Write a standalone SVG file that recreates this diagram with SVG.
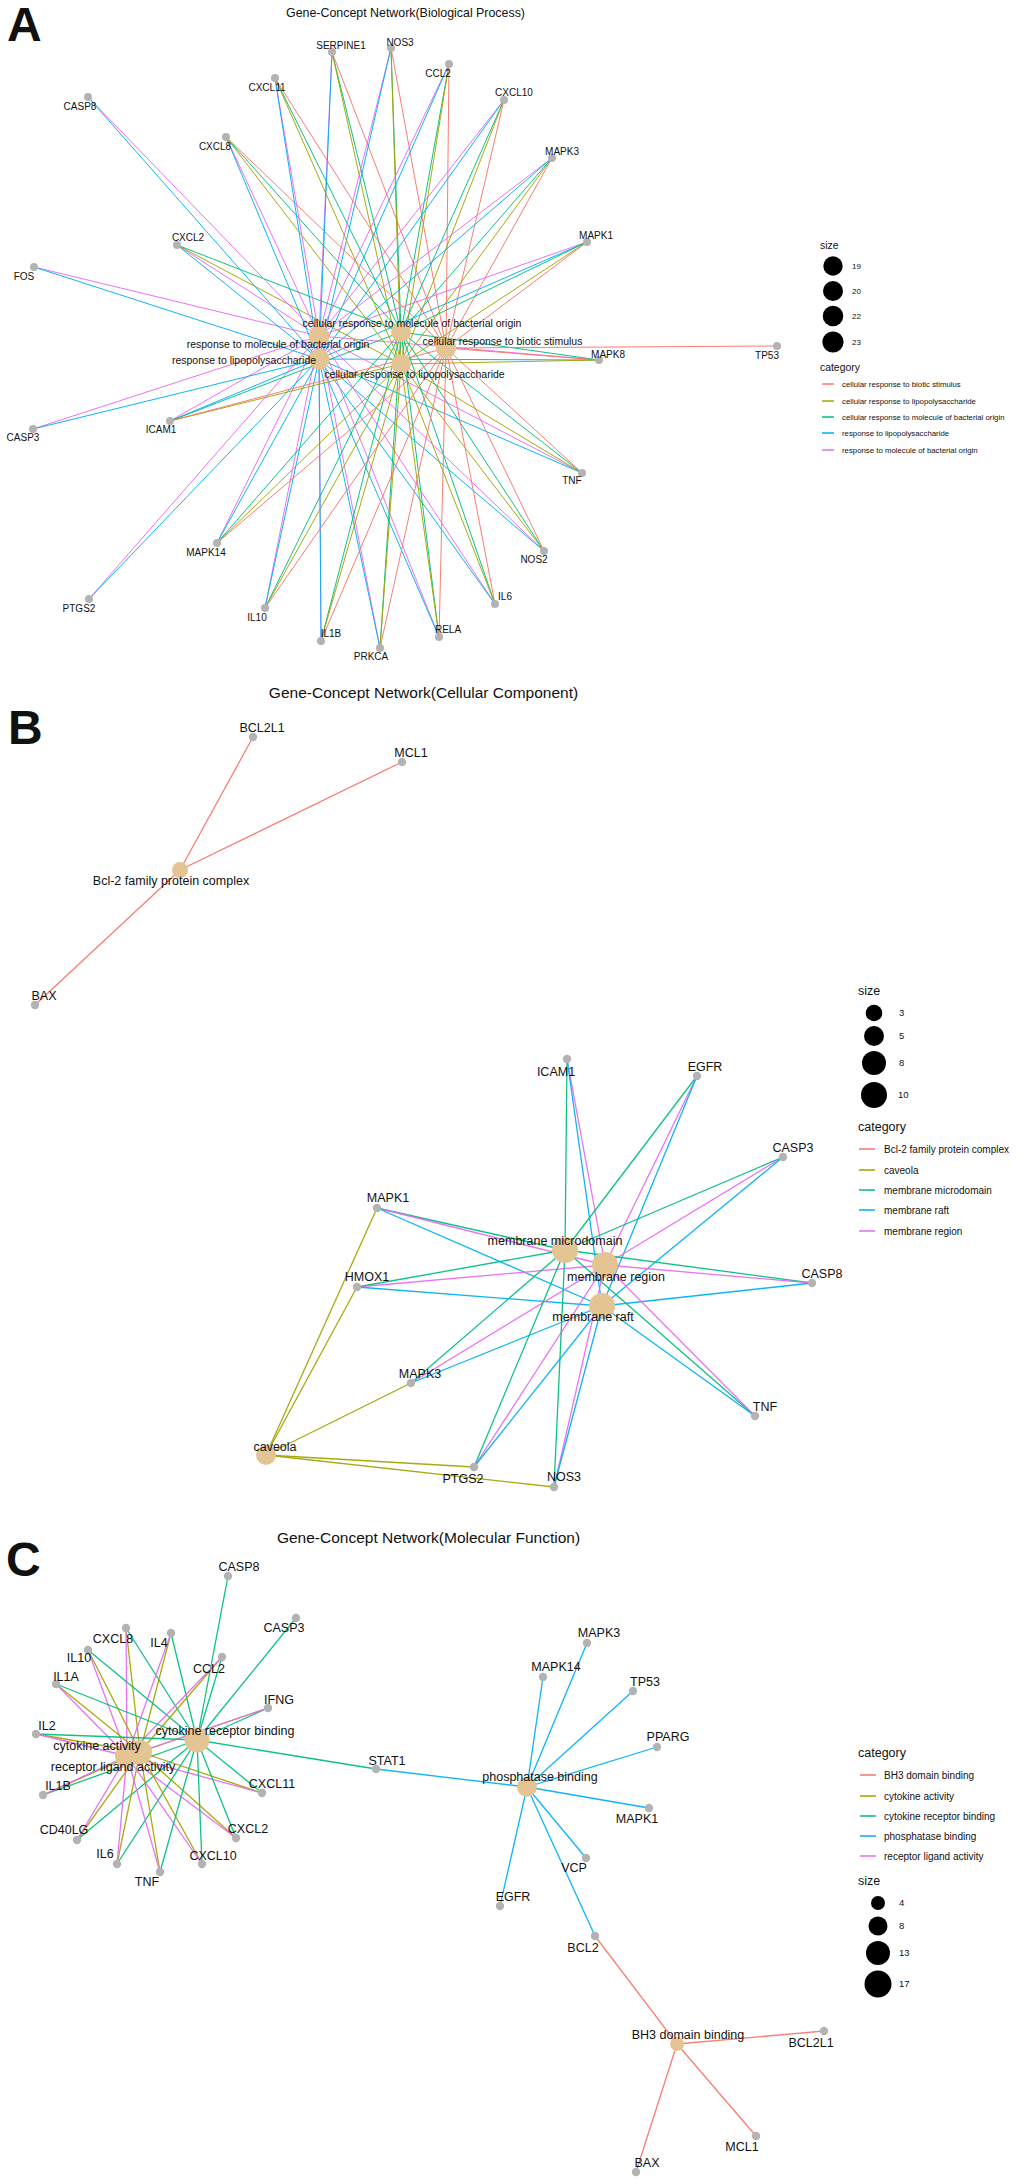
<svg xmlns="http://www.w3.org/2000/svg" width="1020" height="2184" viewBox="0 0 1020 2184">
<style>
text{font-family:"Liberation Sans",Arial,sans-serif;fill:#111}
.t{font-size:12.4px;text-anchor:middle}
.tb{font-size:15.5px;text-anchor:middle}
.L{font-size:48px;font-weight:bold}
.ga{font-size:10px;text-anchor:middle}
.ha{font-size:10.5px;text-anchor:middle}
.gb{font-size:12.5px;text-anchor:middle}
.lt{font-size:12.5px}
.lta{font-size:10.4px}
.li{font-size:10px}
.lia{font-size:7.8px}
.ln{font-size:9.5px}
.lna{font-size:8px}
line{stroke-width:1;stroke-opacity:0.95}
.B line,.C line{stroke-width:1.3}
.r{stroke:#F8766D}.o{stroke:#A3A500}.g{stroke:#00BF7D}.b{stroke:#00B0F6}.p{stroke:#E76BF3}
.hub{fill:#E5C494}
.gene{fill:#B3B3B3}
.key line{stroke-width:1.6}
</style>

<!-- ================= PANEL A ================= -->
<text class="L" x="7" y="41">A</text>
<text class="t" x="405.5" y="16.5">Gene-Concept Network(Biological Process)</text>

<g id="edgesA" class="A">
<!-- SERPINE1 -->
<line class="p" x1="332" y1="52" x2="319" y2="336"/><line class="b" x1="332" y1="52" x2="319" y2="359"/><line class="g" x1="332" y1="52" x2="401" y2="332"/><line class="o" x1="332" y1="52" x2="401" y2="364"/><line class="r" x1="332" y1="52" x2="446" y2="348"/>
<!-- NOS3 -->
<line class="p" x1="391" y1="48" x2="319" y2="336"/><line class="b" x1="391" y1="48" x2="319" y2="359"/><line class="g" x1="391" y1="48" x2="401" y2="332"/><line class="o" x1="391" y1="48" x2="401" y2="364"/><line class="r" x1="391" y1="48" x2="446" y2="348"/>
<!-- CCL2 -->
<line class="p" x1="449" y1="64" x2="319" y2="336"/><line class="b" x1="449" y1="64" x2="319" y2="359"/><line class="g" x1="449" y1="64" x2="401" y2="332"/><line class="o" x1="449" y1="64" x2="401" y2="364"/><line class="r" x1="449" y1="64" x2="446" y2="348"/>
<!-- CXCL10 -->
<line class="p" x1="504" y1="100" x2="319" y2="336"/><line class="b" x1="504" y1="100" x2="319" y2="359"/><line class="g" x1="504" y1="100" x2="401" y2="332"/><line class="o" x1="504" y1="100" x2="401" y2="364"/><line class="r" x1="504" y1="100" x2="446" y2="348"/>
<!-- MAPK3 -->
<line class="p" x1="552" y1="158" x2="319" y2="336"/><line class="b" x1="552" y1="158" x2="319" y2="359"/><line class="g" x1="552" y1="158" x2="401" y2="332"/><line class="o" x1="552" y1="158" x2="401" y2="364"/><line class="r" x1="552" y1="158" x2="446" y2="348"/>
<!-- MAPK1 -->
<line class="p" x1="587" y1="242" x2="319" y2="336"/><line class="b" x1="587" y1="242" x2="319" y2="359"/><line class="g" x1="587" y1="242" x2="401" y2="332"/><line class="o" x1="587" y1="242" x2="401" y2="364"/><line class="r" x1="587" y1="242" x2="446" y2="348"/>
<!-- MAPK8 -->
<line class="p" x1="599" y1="360" x2="319" y2="336"/><line class="b" x1="599" y1="360" x2="319" y2="359"/><line class="g" x1="599" y1="360" x2="401" y2="332"/><line class="o" x1="599" y1="360" x2="401" y2="364"/><line class="r" x1="599" y1="360" x2="446" y2="348"/>
<!-- TP53 -->
<line class="r" x1="777" y1="346" x2="446" y2="348"/>
<!-- TNF -->
<line class="p" x1="582" y1="473" x2="319" y2="336"/><line class="b" x1="582" y1="473" x2="319" y2="359"/><line class="g" x1="582" y1="473" x2="401" y2="332"/><line class="o" x1="582" y1="473" x2="401" y2="364"/><line class="r" x1="582" y1="473" x2="446" y2="348"/>
<!-- NOS2 -->
<line class="p" x1="544" y1="551" x2="319" y2="336"/><line class="b" x1="544" y1="551" x2="319" y2="359"/><line class="g" x1="544" y1="551" x2="401" y2="332"/><line class="o" x1="544" y1="551" x2="401" y2="364"/><line class="r" x1="544" y1="551" x2="446" y2="348"/>
<!-- IL6 -->
<line class="p" x1="495" y1="604" x2="319" y2="336"/><line class="b" x1="495" y1="604" x2="319" y2="359"/><line class="g" x1="495" y1="604" x2="401" y2="332"/><line class="o" x1="495" y1="604" x2="401" y2="364"/><line class="r" x1="495" y1="604" x2="446" y2="348"/>
<!-- RELA -->
<line class="p" x1="439" y1="637" x2="319" y2="336"/><line class="b" x1="439" y1="637" x2="319" y2="359"/><line class="g" x1="439" y1="637" x2="401" y2="332"/><line class="o" x1="439" y1="637" x2="401" y2="364"/><line class="r" x1="439" y1="637" x2="446" y2="348"/>
<!-- PRKCA -->
<line class="p" x1="380" y1="648" x2="319" y2="336"/><line class="b" x1="380" y1="648" x2="319" y2="359"/><line class="g" x1="380" y1="648" x2="401" y2="332"/><line class="o" x1="380" y1="648" x2="401" y2="364"/><line class="r" x1="380" y1="648" x2="446" y2="348"/>
<!-- IL1B -->
<line class="p" x1="321" y1="641" x2="319" y2="336"/><line class="b" x1="321" y1="641" x2="319" y2="359"/><line class="g" x1="321" y1="641" x2="401" y2="332"/><line class="o" x1="321" y1="641" x2="401" y2="364"/><line class="r" x1="321" y1="641" x2="446" y2="348"/>
<!-- IL10 -->
<line class="p" x1="265" y1="608" x2="319" y2="336"/><line class="b" x1="265" y1="608" x2="319" y2="359"/><line class="g" x1="265" y1="608" x2="401" y2="332"/><line class="o" x1="265" y1="608" x2="401" y2="364"/><line class="r" x1="265" y1="608" x2="446" y2="348"/>
<!-- MAPK14 -->
<line class="p" x1="217" y1="543" x2="319" y2="336"/><line class="b" x1="217" y1="543" x2="319" y2="359"/><line class="g" x1="217" y1="543" x2="401" y2="332"/><line class="o" x1="217" y1="543" x2="401" y2="364"/><line class="r" x1="217" y1="543" x2="446" y2="348"/>
<!-- PTGS2 -->
<line class="p" x1="89" y1="599" x2="319" y2="336"/><line class="b" x1="89" y1="599" x2="319" y2="359"/>
<!-- ICAM1 -->
<line class="p" x1="170" y1="421" x2="319" y2="336"/><line class="b" x1="170" y1="421" x2="319" y2="359"/><line class="g" x1="170" y1="421" x2="401" y2="332"/><line class="o" x1="170" y1="421" x2="401" y2="364"/><line class="r" x1="170" y1="421" x2="446" y2="348"/>
<!-- CASP3 -->
<line class="p" x1="33" y1="429" x2="319" y2="336"/><line class="b" x1="33" y1="429" x2="319" y2="359"/>
<!-- FOS -->
<line class="p" x1="34" y1="267" x2="319" y2="336"/><line class="b" x1="34" y1="267" x2="319" y2="359"/>
<!-- CXCL2 -->
<line class="p" x1="177" y1="245" x2="319" y2="336"/><line class="b" x1="177" y1="245" x2="319" y2="359"/><line class="g" x1="177" y1="245" x2="401" y2="332"/><line class="o" x1="177" y1="245" x2="401" y2="364"/>
<!-- CXCL8 -->
<line class="p" x1="226" y1="137" x2="319" y2="336"/><line class="b" x1="226" y1="137" x2="319" y2="359"/><line class="g" x1="226" y1="137" x2="401" y2="332"/><line class="o" x1="226" y1="137" x2="401" y2="364"/><line class="r" x1="226" y1="137" x2="446" y2="348"/>
<!-- CASP8 -->
<line class="p" x1="88" y1="97" x2="319" y2="336"/><line class="b" x1="88" y1="97" x2="319" y2="359"/>
<!-- CXCL11 -->
<line class="p" x1="275" y1="78" x2="319" y2="336"/><line class="b" x1="275" y1="78" x2="319" y2="359"/><line class="g" x1="275" y1="78" x2="401" y2="332"/><line class="o" x1="275" y1="78" x2="401" y2="364"/><line class="r" x1="275" y1="78" x2="446" y2="348"/>
</g>

<g id="hubA-rmbo"><circle class="hub" cx="319" cy="336" r="10.3"/><text class="ha" x="278" y="347.7">response to molecule of bacterial origin</text></g>
<g id="hubA-rlps"><circle class="hub" cx="319" cy="359" r="10.5"/><text class="ha" x="244" y="363.7">response to lipopolysaccharide</text></g>
<g id="hubA-crmbo"><circle class="hub" cx="401" cy="332" r="9.9"/><text class="ha" x="412" y="327">cellular response to molecule of bacterial origin</text></g>
<g id="hubA-crlps"><circle class="hub" cx="401" cy="364" r="9.9"/><text class="ha" x="414.5" y="377.7">cellular response to lipopolysaccharide</text></g>
<g id="hubA-crbs"><circle class="hub" cx="446" cy="348" r="10.1"/><text class="ha" x="502.5" y="344.7">cellular response to biotic stimulus</text></g>

<g id="geneA-SERPINE1"><circle class="gene" cx="332" cy="52" r="4"/><text class="ga" x="341" y="48.5">SERPINE1</text></g>
<g id="geneA-NOS3"><circle class="gene" cx="391" cy="48" r="4"/><text class="ga" x="400" y="45.5">NOS3</text></g>
<g id="geneA-CCL2"><circle class="gene" cx="449" cy="64" r="4"/><text class="ga" x="438" y="76.5">CCL2</text></g>
<g id="geneA-CXCL10"><circle class="gene" cx="504" cy="100" r="4"/><text class="ga" x="514" y="95.5">CXCL10</text></g>
<g id="geneA-MAPK3"><circle class="gene" cx="552" cy="158" r="4"/><text class="ga" x="562" y="154.5">MAPK3</text></g>
<g id="geneA-MAPK1"><circle class="gene" cx="587" cy="242" r="4"/><text class="ga" x="596" y="238.5">MAPK1</text></g>
<g id="geneA-MAPK8"><circle class="gene" cx="599" cy="360" r="4"/><text class="ga" x="608" y="357.5">MAPK8</text></g>
<g id="geneA-TP53"><circle class="gene" cx="777" cy="346" r="4"/><text class="ga" x="767" y="358.5">TP53</text></g>
<g id="geneA-TNF"><circle class="gene" cx="582" cy="473" r="4"/><text class="ga" x="572" y="483.5">TNF</text></g>
<g id="geneA-NOS2"><circle class="gene" cx="544" cy="551" r="4"/><text class="ga" x="534" y="562.5">NOS2</text></g>
<g id="geneA-IL6"><circle class="gene" cx="495" cy="604" r="4"/><text class="ga" x="505" y="599.5">IL6</text></g>
<g id="geneA-RELA"><circle class="gene" cx="439" cy="637" r="4"/><text class="ga" x="448" y="632.5">RELA</text></g>
<g id="geneA-PRKCA"><circle class="gene" cx="380" cy="648" r="4"/><text class="ga" x="371" y="659.5">PRKCA</text></g>
<g id="geneA-IL1B"><circle class="gene" cx="321" cy="641" r="4"/><text class="ga" x="331" y="636.5">IL1B</text></g>
<g id="geneA-IL10"><circle class="gene" cx="265" cy="608" r="4"/><text class="ga" x="257" y="620.5">IL10</text></g>
<g id="geneA-MAPK14"><circle class="gene" cx="217" cy="543" r="4"/><text class="ga" x="206" y="555.5">MAPK14</text></g>
<g id="geneA-PTGS2"><circle class="gene" cx="89" cy="599" r="4"/><text class="ga" x="79" y="611.5">PTGS2</text></g>
<g id="geneA-ICAM1"><circle class="gene" cx="170" cy="421" r="4"/><text class="ga" x="161" y="432.5">ICAM1</text></g>
<g id="geneA-CASP3"><circle class="gene" cx="33" cy="429" r="4"/><text class="ga" x="23" y="440.5">CASP3</text></g>
<g id="geneA-FOS"><circle class="gene" cx="34" cy="267" r="4"/><text class="ga" x="24" y="279.5">FOS</text></g>
<g id="geneA-CXCL2"><circle class="gene" cx="177" cy="245" r="4"/><text class="ga" x="188" y="240.5">CXCL2</text></g>
<g id="geneA-CXCL8"><circle class="gene" cx="226" cy="137" r="4"/><text class="ga" x="215" y="149.5">CXCL8</text></g>
<g id="geneA-CASP8"><circle class="gene" cx="88" cy="97" r="4"/><text class="ga" x="80" y="109.5">CASP8</text></g>
<g id="geneA-CXCL11"><circle class="gene" cx="275" cy="78" r="4"/><text class="ga" x="267" y="90.5">CXCL11</text></g>

<g id="legendA">
<text class="lta" x="820" y="248.6">size</text>
<circle cx="833" cy="266" r="9.7" fill="#000"/><text class="lna" x="852" y="268.8">19</text>
<circle cx="833" cy="291" r="10" fill="#000"/><text class="lna" x="852" y="293.8">20</text>
<circle cx="833" cy="316" r="10.3" fill="#000"/><text class="lna" x="852" y="318.8">22</text>
<circle cx="833" cy="342" r="10.6" fill="#000"/><text class="lna" x="852" y="344.8">23</text>
<text class="lta" x="820" y="370.6">category</text>
<g class="key">
<line class="r" x1="822" y1="384" x2="834" y2="384"/><line class="o" x1="822" y1="401" x2="834" y2="401"/><line class="g" x1="822" y1="417" x2="834" y2="417"/><line class="b" x1="822" y1="433" x2="834" y2="433"/><line class="p" x1="822" y1="450" x2="834" y2="450"/>
</g>
<text class="lia" x="842" y="386.7">cellular response to biotic stimulus</text>
<text class="lia" x="842" y="403.7">cellular response to lipopolysaccharide</text>
<text class="lia" x="842" y="419.7">cellular response to molecule of bacterial origin</text>
<text class="lia" x="842" y="435.7">response to lipopolysaccharide</text>
<text class="lia" x="842" y="452.7">response to molecule of bacterial origin</text>
</g>

<!-- ================= PANEL B ================= -->
<text class="L" x="8" y="744">B</text>
<text class="tb" x="423.5" y="697.5">Gene-Concept Network(Cellular Component)</text>

<g id="edgesB" class="B">
<line class="r" x1="253" y1="737" x2="180" y2="870"/>
<line class="r" x1="402" y1="762" x2="180" y2="870"/>
<line class="r" x1="35" y1="1005" x2="180" y2="870"/>
<!-- caveola -->
<line class="o" x1="377" y1="1208" x2="266" y2="1455"/>
<line class="o" x1="357" y1="1287" x2="266" y2="1455"/>
<line class="o" x1="411" y1="1383" x2="266" y2="1455"/>
<line class="o" x1="474" y1="1467" x2="266" y2="1455"/>
<line class="o" x1="554" y1="1487" x2="266" y2="1455"/>
<!-- membrane microdomain (g) 565,1250 ; region (p) 605,1265 ; raft (b) 602,1306 -->
<line class="g" x1="567" y1="1059" x2="565" y2="1250"/><line class="p" x1="567" y1="1059" x2="605" y2="1265"/><line class="b" x1="567" y1="1059" x2="602" y2="1306"/>
<line class="g" x1="697" y1="1076" x2="565" y2="1250"/><line class="p" x1="697" y1="1076" x2="605" y2="1265"/><line class="b" x1="697" y1="1076" x2="602" y2="1306"/>
<line class="g" x1="783" y1="1157" x2="565" y2="1250"/><line class="p" x1="783" y1="1157" x2="605" y2="1265"/><line class="b" x1="783" y1="1157" x2="602" y2="1306"/>
<line class="g" x1="377" y1="1208" x2="565" y2="1250"/><line class="p" x1="377" y1="1208" x2="605" y2="1265"/><line class="b" x1="377" y1="1208" x2="602" y2="1306"/>
<line class="g" x1="357" y1="1287" x2="565" y2="1250"/><line class="p" x1="357" y1="1287" x2="605" y2="1265"/><line class="b" x1="357" y1="1287" x2="602" y2="1306"/>
<line class="g" x1="812" y1="1283" x2="565" y2="1250"/><line class="p" x1="812" y1="1283" x2="605" y2="1265"/><line class="b" x1="812" y1="1283" x2="602" y2="1306"/>
<line class="g" x1="411" y1="1383" x2="565" y2="1250"/><line class="p" x1="411" y1="1383" x2="605" y2="1265"/><line class="b" x1="411" y1="1383" x2="602" y2="1306"/>
<line class="g" x1="755" y1="1416" x2="565" y2="1250"/><line class="p" x1="755" y1="1416" x2="605" y2="1265"/><line class="b" x1="755" y1="1416" x2="602" y2="1306"/>
<line class="g" x1="474" y1="1467" x2="565" y2="1250"/><line class="p" x1="474" y1="1467" x2="605" y2="1265"/><line class="b" x1="474" y1="1467" x2="602" y2="1306"/>
<line class="g" x1="554" y1="1487" x2="565" y2="1250"/><line class="p" x1="554" y1="1487" x2="605" y2="1265"/><line class="b" x1="554" y1="1487" x2="602" y2="1306"/>
</g>

<g id="hubB-bcl2"><circle class="hub" cx="180" cy="870" r="8"/><text class="gb" x="171" y="885.4">Bcl-2 family protein complex</text></g>
<g id="hubB-caveola"><circle class="hub" cx="266" cy="1455" r="10"/><text class="gb" x="275" y="1451.4">caveola</text></g>
<g id="hubB-microdomain"><circle class="hub" cx="565" cy="1250" r="13"/><text class="gb" x="555" y="1245.4">membrane microdomain</text></g>
<g id="hubB-region"><circle class="hub" cx="605" cy="1265" r="13"/><text class="gb" x="616" y="1281.4">membrane region</text></g>
<g id="hubB-raft"><circle class="hub" cx="602" cy="1306" r="13"/><text class="gb" x="593" y="1321.4">membrane raft</text></g>

<g id="geneB-BCL2L1"><circle class="gene" cx="253" cy="737" r="4.2"/><text class="gb" x="262" y="732.4">BCL2L1</text></g>
<g id="geneB-MCL1"><circle class="gene" cx="402" cy="762" r="4.2"/><text class="gb" x="411" y="757.4">MCL1</text></g>
<g id="geneB-BAX"><circle class="gene" cx="35" cy="1005" r="4.2"/><text class="gb" x="44" y="1000.4">BAX</text></g>
<g id="geneB-ICAM1"><circle class="gene" cx="567" cy="1059" r="4.2"/><text class="gb" x="556" y="1076.4">ICAM1</text></g>
<g id="geneB-EGFR"><circle class="gene" cx="697" cy="1076" r="4.2"/><text class="gb" x="705" y="1071.4">EGFR</text></g>
<g id="geneB-CASP3"><circle class="gene" cx="783" cy="1157" r="4.2"/><text class="gb" x="793" y="1152.4">CASP3</text></g>
<g id="geneB-MAPK1"><circle class="gene" cx="377" cy="1208" r="4.2"/><text class="gb" x="388" y="1202.4">MAPK1</text></g>
<g id="geneB-HMOX1"><circle class="gene" cx="357" cy="1287" r="4.2"/><text class="gb" x="367" y="1281.4">HMOX1</text></g>
<g id="geneB-CASP8"><circle class="gene" cx="812" cy="1283" r="4.2"/><text class="gb" x="822" y="1278.4">CASP8</text></g>
<g id="geneB-MAPK3"><circle class="gene" cx="411" cy="1383" r="4.2"/><text class="gb" x="420" y="1378.4">MAPK3</text></g>
<g id="geneB-TNF"><circle class="gene" cx="755" cy="1416" r="4.2"/><text class="gb" x="765" y="1411.4">TNF</text></g>
<g id="geneB-PTGS2"><circle class="gene" cx="474" cy="1467" r="4.2"/><text class="gb" x="463" y="1483.4">PTGS2</text></g>
<g id="geneB-NOS3"><circle class="gene" cx="554" cy="1487" r="4.2"/><text class="gb" x="564" y="1481.4">NOS3</text></g>

<g id="legendB">
<text class="lt" x="858" y="995.4">size</text>
<circle cx="874" cy="1013" r="8.3" fill="#000"/><text class="ln" x="899" y="1016.3">3</text>
<circle cx="874" cy="1036" r="10" fill="#000"/><text class="ln" x="899" y="1039.3">5</text>
<circle cx="874" cy="1063" r="12" fill="#000"/><text class="ln" x="899" y="1066.3">8</text>
<circle cx="874" cy="1095" r="13" fill="#000"/><text class="ln" x="898" y="1098.3">10</text>
<text class="lt" x="858" y="1131.4">category</text>
<g class="key">
<line class="r" x1="859" y1="1149" x2="875" y2="1149"/><line class="o" x1="859" y1="1170" x2="875" y2="1170"/><line class="g" x1="859" y1="1190" x2="875" y2="1190"/><line class="b" x1="859" y1="1210" x2="875" y2="1210"/><line class="p" x1="859" y1="1231" x2="875" y2="1231"/>
</g>
<text class="li" x="884" y="1152.5">Bcl-2 family protein complex</text>
<text class="li" x="884" y="1173.5">caveola</text>
<text class="li" x="884" y="1193.5">membrane microdomain</text>
<text class="li" x="884" y="1213.5">membrane raft</text>
<text class="li" x="884" y="1234.5">membrane region</text>
</g>

<!-- ================= PANEL C ================= -->
<text class="L" x="6" y="1576">C</text>
<text class="tb" x="428.5" y="1542.5">Gene-Concept Network(Molecular Function)</text>

<g id="edgesC" class="C">
<!-- CRB (g) 197,1740 ; CA (o) 140,1752 ; RLA (p) 127,1756 -->
<line class="g" x1="228" y1="1576" x2="197" y2="1740"/>
<line class="g" x1="296" y1="1618" x2="197" y2="1740"/>
<line class="g" x1="376" y1="1769" x2="197" y2="1740"/>
<line class="b" x1="376" y1="1769" x2="527" y2="1787"/>
<line class="g" x1="126" y1="1628" x2="197" y2="1740"/><line class="o" x1="126" y1="1628" x2="140" y2="1752"/><line class="p" x1="126" y1="1628" x2="127" y2="1756"/>
<line class="g" x1="171" y1="1633" x2="197" y2="1740"/><line class="o" x1="171" y1="1633" x2="140" y2="1752"/><line class="p" x1="171" y1="1633" x2="127" y2="1756"/>
<line class="g" x1="88" y1="1650" x2="197" y2="1740"/><line class="o" x1="88" y1="1650" x2="140" y2="1752"/><line class="p" x1="88" y1="1650" x2="127" y2="1756"/>
<line class="g" x1="222" y1="1657" x2="197" y2="1740"/><line class="o" x1="222" y1="1657" x2="140" y2="1752"/><line class="p" x1="222" y1="1657" x2="127" y2="1756"/>
<line class="g" x1="56" y1="1684" x2="197" y2="1740"/><line class="o" x1="56" y1="1684" x2="140" y2="1752"/><line class="p" x1="56" y1="1684" x2="127" y2="1756"/>
<line class="g" x1="268" y1="1708" x2="197" y2="1740"/><line class="o" x1="268" y1="1708" x2="140" y2="1752"/><line class="p" x1="268" y1="1708" x2="127" y2="1756"/>
<line class="g" x1="36" y1="1734" x2="197" y2="1740"/><line class="o" x1="36" y1="1734" x2="140" y2="1752"/><line class="p" x1="36" y1="1734" x2="127" y2="1756"/>
<line class="g" x1="43" y1="1795" x2="197" y2="1740"/><line class="o" x1="43" y1="1795" x2="140" y2="1752"/><line class="p" x1="43" y1="1795" x2="127" y2="1756"/>
<line class="g" x1="262" y1="1793" x2="197" y2="1740"/><line class="o" x1="262" y1="1793" x2="140" y2="1752"/><line class="p" x1="262" y1="1793" x2="127" y2="1756"/>
<line class="g" x1="77" y1="1840" x2="197" y2="1740"/><line class="o" x1="77" y1="1840" x2="140" y2="1752"/><line class="p" x1="77" y1="1840" x2="127" y2="1756"/>
<line class="g" x1="236" y1="1838" x2="197" y2="1740"/><line class="o" x1="236" y1="1838" x2="140" y2="1752"/><line class="p" x1="236" y1="1838" x2="127" y2="1756"/>
<line class="g" x1="117" y1="1864" x2="197" y2="1740"/><line class="o" x1="117" y1="1864" x2="140" y2="1752"/><line class="p" x1="117" y1="1864" x2="127" y2="1756"/>
<line class="g" x1="202" y1="1864" x2="197" y2="1740"/><line class="o" x1="202" y1="1864" x2="140" y2="1752"/><line class="p" x1="202" y1="1864" x2="127" y2="1756"/>
<line class="g" x1="160" y1="1872" x2="197" y2="1740"/><line class="o" x1="160" y1="1872" x2="140" y2="1752"/><line class="p" x1="160" y1="1872" x2="127" y2="1756"/>
<!-- phosphatase binding (b) 527,1787 -->
<line class="b" x1="587" y1="1643" x2="527" y2="1787"/>
<line class="b" x1="543" y1="1677" x2="527" y2="1787"/>
<line class="b" x1="633" y1="1691" x2="527" y2="1787"/>
<line class="b" x1="657" y1="1747" x2="527" y2="1787"/>
<line class="b" x1="649" y1="1808" x2="527" y2="1787"/>
<line class="b" x1="586" y1="1858" x2="527" y2="1787"/>
<line class="b" x1="500" y1="1906" x2="527" y2="1787"/>
<line class="b" x1="595" y1="1936" x2="527" y2="1787"/>
<!-- BH3 (r) 677,2044 -->
<line class="r" x1="595" y1="1936" x2="677" y2="2044"/>
<line class="r" x1="824" y1="2031" x2="677" y2="2044"/>
<line class="r" x1="756" y1="2136" x2="677" y2="2044"/>
<line class="r" x1="636" y1="2172" x2="677" y2="2044"/>
</g>

<g id="hubC-crb"><circle class="hub" cx="197" cy="1740" r="12.5"/><text class="gb" x="225" y="1735.4">cytokine receptor binding</text></g>
<g id="hubC-rla"><circle class="hub" cx="127" cy="1756" r="12"/></g>
<g id="hubC-ca"><circle class="hub" cx="140" cy="1752" r="12"/></g>
<g id="hubC-labels"><text class="gb" x="97" y="1750.4">cytokine activity</text><text class="gb" x="113" y="1771.4">receptor ligand activity</text></g>
<g id="hubC-pb"><circle class="hub" cx="527" cy="1787" r="10"/><text class="gb" x="540" y="1781.4">phosphatase binding</text></g>
<g id="hubC-bh3"><circle class="hub" cx="677" cy="2044" r="7"/><text class="gb" x="688" y="2039.4">BH3 domain binding</text></g>

<g id="geneC-CASP8"><circle class="gene" cx="228" cy="1576" r="4.2"/><text class="gb" x="239" y="1571.4">CASP8</text></g>
<g id="geneC-CASP3"><circle class="gene" cx="296" cy="1618" r="4.2"/><text class="gb" x="284" y="1632.4">CASP3</text></g>
<g id="geneC-CXCL8"><circle class="gene" cx="126" cy="1628" r="4.2"/><text class="gb" x="113" y="1643.4">CXCL8</text></g>
<g id="geneC-IL4"><circle class="gene" cx="171" cy="1633" r="4.2"/><text class="gb" x="159" y="1647.4">IL4</text></g>
<g id="geneC-IL10"><circle class="gene" cx="88" cy="1650" r="4.2"/><text class="gb" x="79" y="1662.4">IL10</text></g>
<g id="geneC-CCL2"><circle class="gene" cx="222" cy="1657" r="4.2"/><text class="gb" x="209" y="1673.4">CCL2</text></g>
<g id="geneC-IL1A"><circle class="gene" cx="56" cy="1684" r="4.2"/><text class="gb" x="66" y="1681.4">IL1A</text></g>
<g id="geneC-IFNG"><circle class="gene" cx="268" cy="1708" r="4.2"/><text class="gb" x="279" y="1704.4">IFNG</text></g>
<g id="geneC-IL2"><circle class="gene" cx="36" cy="1734" r="4.2"/><text class="gb" x="47" y="1730.4">IL2</text></g>
<g id="geneC-STAT1"><circle class="gene" cx="376" cy="1769" r="4.2"/><text class="gb" x="387" y="1765.4">STAT1</text></g>
<g id="geneC-IL1B"><circle class="gene" cx="43" cy="1795" r="4.2"/><text class="gb" x="58" y="1790.4">IL1B</text></g>
<g id="geneC-CXCL11"><circle class="gene" cx="262" cy="1793" r="4.2"/><text class="gb" x="272" y="1788.4">CXCL11</text></g>
<g id="geneC-CD40LG"><circle class="gene" cx="77" cy="1840" r="4.2"/><text class="gb" x="64" y="1834.4">CD40LG</text></g>
<g id="geneC-CXCL2"><circle class="gene" cx="236" cy="1838" r="4.2"/><text class="gb" x="248" y="1833.4">CXCL2</text></g>
<g id="geneC-IL6"><circle class="gene" cx="117" cy="1864" r="4.2"/><text class="gb" x="105" y="1858.4">IL6</text></g>
<g id="geneC-CXCL10"><circle class="gene" cx="202" cy="1864" r="4.2"/><text class="gb" x="213" y="1860.4">CXCL10</text></g>
<g id="geneC-TNF"><circle class="gene" cx="160" cy="1872" r="4.2"/><text class="gb" x="147" y="1886.4">TNF</text></g>
<g id="geneC-MAPK3"><circle class="gene" cx="587" cy="1643" r="4.2"/><text class="gb" x="599" y="1637.4">MAPK3</text></g>
<g id="geneC-MAPK14"><circle class="gene" cx="543" cy="1677" r="4.2"/><text class="gb" x="556" y="1671.4">MAPK14</text></g>
<g id="geneC-TP53"><circle class="gene" cx="633" cy="1691" r="4.2"/><text class="gb" x="645" y="1686.4">TP53</text></g>
<g id="geneC-PPARG"><circle class="gene" cx="657" cy="1747" r="4.2"/><text class="gb" x="668" y="1741.4">PPARG</text></g>
<g id="geneC-MAPK1"><circle class="gene" cx="649" cy="1808" r="4.2"/><text class="gb" x="637" y="1823.4">MAPK1</text></g>
<g id="geneC-VCP"><circle class="gene" cx="586" cy="1858" r="4.2"/><text class="gb" x="574" y="1872.4">VCP</text></g>
<g id="geneC-EGFR"><circle class="gene" cx="500" cy="1906" r="4.2"/><text class="gb" x="513" y="1901.4">EGFR</text></g>
<g id="geneC-BCL2"><circle class="gene" cx="595" cy="1936" r="4.2"/><text class="gb" x="583" y="1952.4">BCL2</text></g>
<g id="geneC-BCL2L1"><circle class="gene" cx="824" cy="2031" r="4.2"/><text class="gb" x="811" y="2047.4">BCL2L1</text></g>
<g id="geneC-MCL1"><circle class="gene" cx="756" cy="2136" r="4.2"/><text class="gb" x="742" y="2151.4">MCL1</text></g>
<g id="geneC-BAX"><circle class="gene" cx="636" cy="2172" r="4.2"/><text class="gb" x="647" y="2167.4">BAX</text></g>

<g id="legendC">
<text class="lt" x="858" y="1757.4">category</text>
<g class="key">
<line class="r" x1="860" y1="1775" x2="876" y2="1775"/><line class="o" x1="860" y1="1796" x2="876" y2="1796"/><line class="g" x1="860" y1="1816" x2="876" y2="1816"/><line class="b" x1="860" y1="1836" x2="876" y2="1836"/><line class="p" x1="860" y1="1856" x2="876" y2="1856"/>
</g>
<text class="li" x="884" y="1778.5">BH3 domain binding</text>
<text class="li" x="884" y="1799.5">cytokine activity</text>
<text class="li" x="884" y="1819.5">cytokine receptor binding</text>
<text class="li" x="884" y="1839.5">phosphatase binding</text>
<text class="li" x="884" y="1859.5">receptor ligand activity</text>
<text class="lt" x="858" y="1885.4">size</text>
<circle cx="878" cy="1903" r="7" fill="#000"/><text class="ln" x="899" y="1906.3">4</text>
<circle cx="878" cy="1926" r="9.5" fill="#000"/><text class="ln" x="899" y="1929.3">8</text>
<circle cx="878" cy="1953" r="12" fill="#000"/><text class="ln" x="899" y="1956.3">13</text>
<circle cx="878" cy="1984" r="13.5" fill="#000"/><text class="ln" x="899" y="1987.3">17</text>
</g>
</svg>
